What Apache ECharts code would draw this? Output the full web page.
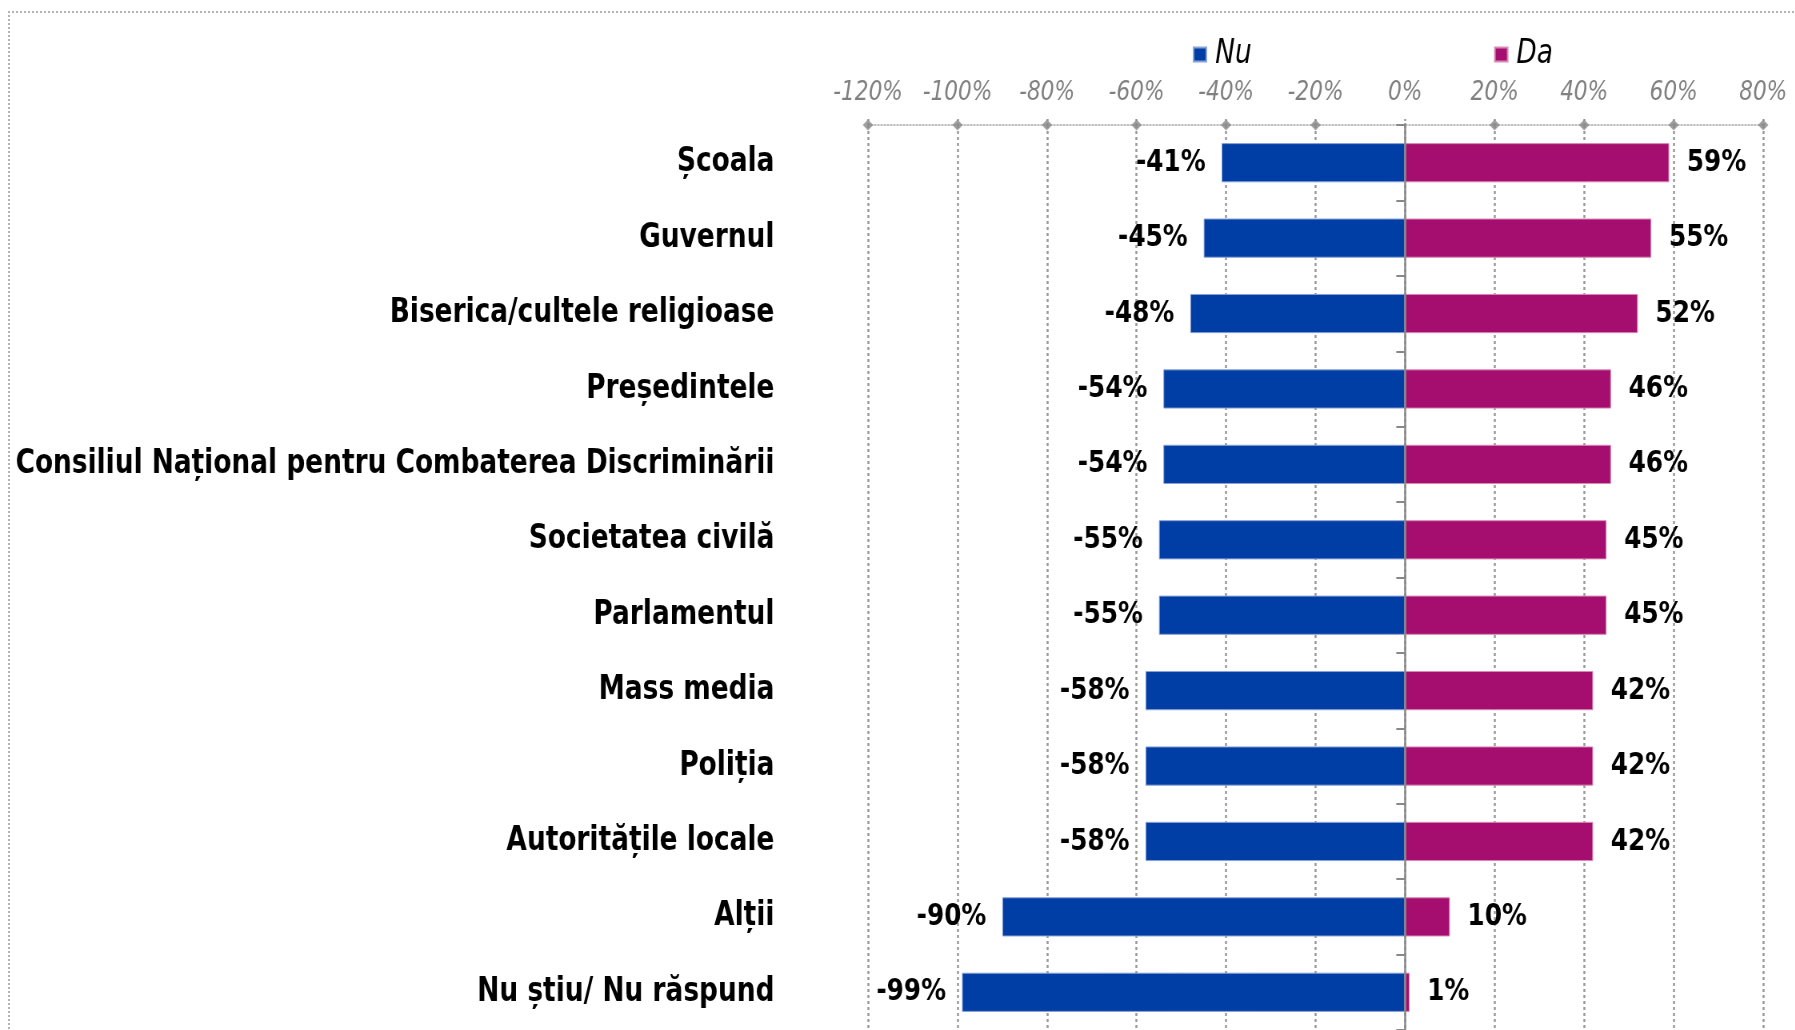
<!DOCTYPE html>
<html>
<head>
<meta charset="utf-8">
<script src="https://cdn.jsdelivr.net/npm/echarts@6/dist/echarts.min.js"></script>
<style>
  html, body { margin: 0; padding: 0; background: #fff; overflow: hidden; }
  #frame { position: absolute; left: 8px; top: 11px; width: 1800px; height: 1100px;
           border-top: 2px dotted #b4b4b4; border-left: 2px dotted #b4b4b4; }
  /* the original text is narrow, so the chart is drawn wider and squeezed */
  #main { position: absolute; left: 0; top: 0; width: 2244px; height: 1030px;
          transform: scaleX(0.8); transform-origin: 0 0; }
</style>
</head>
<body>
<div id="frame"></div>
<div id="main"></div>
<script>
var categories = [
    'Școala',
    'Guvernul',
    'Biserica/cultele religioase',
    'Președintele',
    'Consiliul Național pentru Combaterea Discriminării',
    'Societatea civilă',
    'Parlamentul',
    'Mass media',
    'Poliția',
    'Autoritățile locale',
    'Alții',
    'Nu știu/ Nu răspund'
];
var nuValues = [-41, -45, -48, -54, -54, -55, -55, -58, -58, -58, -90, -99];
var daValues = [59, 55, 52, 46, 46, 45, 45, 42, 42, 42, 10, 1];
var tickValues = [-120, -100, -80, -60, -40, -20, 0, 20, 40, 60, 80];

var font = 'DejaVu Sans';
var myChart = echarts.init(document.getElementById('main'));

var option = {
    animation: false,
    legend: {
        data: ['Nu', 'Da'],
        left: 1486,
        top: 33,
        icon: 'rect',
        itemWidth: 16,
        itemHeight: 14,
        itemGap: 303,
        textStyle: {
            fontFamily: font,
            fontStyle: 'italic',
            fontSize: 33,
            color: '#000',
            padding: [0, 0, 0, 6]
        }
    },
    grid: {
        left: 1085,
        right: 40,
        top: 125,
        bottom: 0
    },
    xAxis: {
        type: 'value',
        position: 'top',
        min: tickValues[0],
        max: tickValues[tickValues.length - 1],
        interval: 20,
        axisLine: {
            show: true,
            onZero: false,
            lineStyle: { color: '#aaa', width: 1.5, type: [2, 2] }
        },
        axisTick: {
            show: true,
            length: 8,
            lineStyle: { color: '#999', width: 2.5, type: [2, 2] }
        },
        axisLabel: {
            formatter: '{value}%',
            fontFamily: font,
            fontStyle: 'italic',
            fontSize: 27,
            color: '#808080',
            margin: 19
        },
        splitLine: {
            show: true,
            lineStyle: { color: '#999', width: 2.5, type: [3, 3] }
        }
    },
    yAxis: [
        {
            type: 'category',
            data: categories,
            inverse: true,
            axisLine: { show: false, onZero: false },
            axisTick: { show: false },
            axisLabel: {
                fontFamily: font,
                fontWeight: 'bold',
                fontSize: 33,
                color: '#000',
                margin: 117,
                padding: [14, 0, 0, 0]
            },
            splitLine: { show: false }
        },
        {
            // zero line with the small ticks
            type: 'category',
            data: categories,
            inverse: true,
            position: 'right',
            z: 3,
            axisLine: {
                show: true,
                onZero: true,
                lineStyle: { color: '#888', width: 2.5 }
            },
            axisTick: {
                show: true,
                inside: true,
                length: 11,
                lineStyle: { color: '#888', width: 2 }
            },
            axisLabel: { show: false },
            splitLine: { show: false }
        },
        {
            type: 'value',
            min: 0,
            max: 1,
            show: false,
            axisLine: { onZero: false }
        }
    ],
    series: [
        {
            name: 'Nu',
            type: 'bar',
            stack: 'total',
            barWidth: '52%',
            data: nuValues,
            itemStyle: { color: '#003DA5', borderColor: '#8aa3d6', borderWidth: 1 },
            label: {
                show: true,
                position: 'left',
                distance: 20,
                formatter: '{c}%',
                fontFamily: font,
                fontWeight: 'bold',
                fontSize: 31,
                color: '#000',
                padding: [8, 0, 0, 0]
            }
        },
        {
            name: 'Da',
            type: 'bar',
            stack: 'total',
            barWidth: '52%',
            data: daValues,
            itemStyle: { color: '#A50E6E', borderColor: '#d88ab6', borderWidth: 1 },
            label: {
                show: true,
                position: 'right',
                distance: 22,
                formatter: '{c}%',
                fontFamily: font,
                fontWeight: 'bold',
                fontSize: 31,
                color: '#000',
                padding: [8, 0, 0, 0]
            }
        },
        {
            // diamond markers on the top axis
            type: 'scatter',
            xAxisIndex: 0,
            yAxisIndex: 2,
            symbol: 'diamond',
            symbolSize: [13, 11],
            clip: false,
            silent: true,
            z: 4,
            itemStyle: { color: '#888' },
            data: tickValues.filter(function (v) { return v !== 0; }).map(function (v) { return [v, 1]; })
        }
    ]
};

myChart.setOption(option);
</script>
</body>
</html>
